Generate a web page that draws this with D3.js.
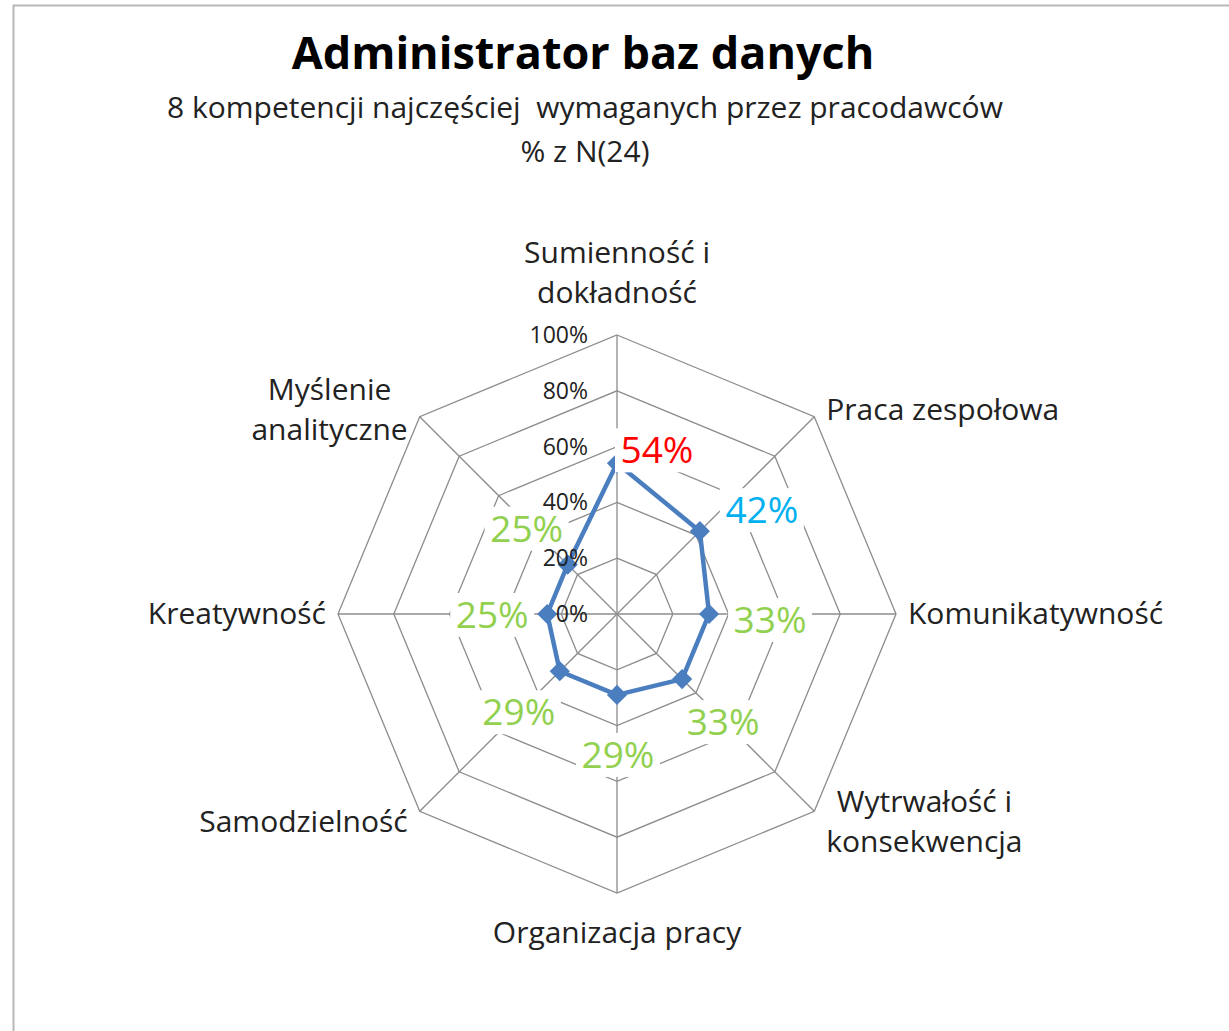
<!DOCTYPE html>
<head>
	<meta charset="utf-8">
	<script src="https://d3js.org/d3.v7.min.js"></script>
	<style>
		body { margin: 0; background: #fff; }
		text { font-family: "Open Sans", Lato, sans-serif; white-space: pre; }
	</style>
</head>
<body>
	<svg id="chart" width="1229" height="1031"></svg>
	<script>

	// Data
	var categories = [
		["Sumienność i", "dokładność"],
		["Praca zespołowa"],
		["Komunikatywność"],
		["Wytrwałość i", "konsekwencja"],
		["Organizacja pracy"],
		["Samodzielność"],
		["Kreatywność"],
		["Myślenie", "analityczne"]
	];
	var values = [0.54, 0.42, 0.33, 0.33, 0.29, 0.29, 0.25, 0.25];
	var valueLabels = ["54%", "42%", "33%", "33%", "29%", "29%", "25%", "25%"];
	var labelColors = ["#ff0000", "#00b0f0", "#92d050", "#92d050", "#92d050", "#92d050", "#92d050", "#92d050"];
	var tickValues = [0, 0.2, 0.4, 0.6, 0.8, 1];
	var tickLabels = ["0%", "20%", "40%", "60%", "80%", "100%"];

	var title = "Administrator baz danych";
	var subtitle = ["8 kompetencji najczęściej  wymaganych przez pracodawców", "% z N(24)"];

	// layout
	var svg = d3.select("#chart");
	var cx = 617, cy = 614, R = 279;
	var n = categories.length;
	var r = d3.scaleLinear().domain([0, 1]).range([0, R]);
	var angle = function(i) { return i * 2 * Math.PI / n; };
	var px = function(i, v) { return cx + r(v) * Math.sin(angle(i)); };
	var py = function(i, v) { return cy - r(v) * Math.cos(angle(i)); };

	// nudges for the data labels (label sits this far from its point)
	var labelNudge = [[40, -13], [62, -21], [61, 6], [41, 43], [1, 60], [-41, 41], [-55, 1], [-41, -36]];

	// frame
	svg.append("rect")
		.attr("x", 13.5).attr("y", 5.5)
		.attr("width", 1240).attr("height", 1040)
		.attr("fill", "#fff")
		.attr("stroke", "#b8b8b8")
		.attr("stroke-width", 2);

	// titles
	svg.append("text")
		.attr("x", 583).attr("y", 69)
		.attr("text-anchor", "middle")
		.attr("font-size", 45).attr("font-weight", "bold")
		.attr("fill", "#000")
		.text(title);
	svg.selectAll(".sub").data(subtitle).enter().append("text")
		.attr("class", "sub")
		.attr("x", 585)
		.attr("y", function(d, i) { return 118 + i * 44; })
		.attr("text-anchor", "middle")
		.attr("font-size", 30)
		.attr("fill", "#222")
		.text(function(d) { return d; });

	// grid rings
	var grid = svg.append("g");
	tickValues.forEach(function(t) {
		var pts = d3.range(n).map(function(i) { return [px(i, t), py(i, t)]; });
		grid.append("path")
			.attr("d", "M" + pts.join("L") + "Z")
			.attr("fill", "none")
			.attr("stroke", "#8c8c8c")
			.attr("stroke-width", 1.3);
	});
	// spokes
	grid.selectAll(".spoke").data(d3.range(n)).enter().append("line")
		.attr("x1", cx).attr("y1", cy)
		.attr("x2", function(i) { return px(i, 1); })
		.attr("y2", function(i) { return py(i, 1); })
		.attr("stroke", "#8c8c8c")
		.attr("stroke-width", 1.3);

	// series
	var line = d3.lineRadial()
		.angle(function(d, i) { return angle(i); })
		.radius(function(d) { return r(d); })
		.curve(d3.curveLinearClosed);
	svg.append("path")
		.attr("transform", "translate(" + cx + "," + cy + ")")
		.attr("d", line(values))
		.attr("fill", "none")
		.attr("stroke", "#4a7ebf")
		.attr("stroke-width", 4.5)
		.attr("stroke-linejoin", "round");
	svg.selectAll(".marker").data(values).enter().append("path")
		.attr("transform", function(d, i) { return "translate(" + px(i, d) + "," + py(i, d) + ")"; })
		.attr("d", d3.symbol().type(d3.symbolDiamond2).size(260))
		.attr("fill", "#4a7ebf");

	// data labels with white boxes
	var dl = svg.selectAll(".dl").data(values).enter().append("g")
		.attr("transform", function(d, i) {
			return "translate(" + (px(i, d) + labelNudge[i][0]) + "," + (py(i, d) + labelNudge[i][1]) + ")";
		});
	dl.append("rect")
		.attr("x", -42).attr("y", -22)
		.attr("width", 84).attr("height", 44)
		.attr("fill", "#fff");
	dl.append("text")
		.attr("text-anchor", "middle")
		.attr("y", 13)
		.attr("font-size", 37)
		.attr("fill", function(d, i) { return labelColors[i]; })
		.text(function(d, i) { return valueLabels[i]; });

	// tick labels on top
	svg.selectAll(".tick").data(tickValues).enter().append("text")
		.attr("x", cx - 29)
		.attr("y", function(t) { return cy - r(t) + 8; })
		.attr("text-anchor", "end")
		.attr("font-size", 23)
		.attr("fill", "#222")
		.text(function(t, i) { return tickLabels[i]; });

	// category labels
	var lineH = 40;
	categories.forEach(function(lines, i) {
		var s = Math.sin(angle(i)), c = Math.cos(angle(i));
		var vx = px(i, 1), vy = py(i, 1);
		var g = svg.append("g");
		var texts = g.selectAll("text").data(lines).enter().append("text")
			.attr("text-anchor", "middle")
			.attr("font-size", 30)
			.attr("fill", "#222")
			.text(function(d) { return d; });
		var w = d3.max(texts.nodes(), function(t) { return t.getComputedTextLength(); });
		var h = lines.length * lineH;
		var x = vx, top;
		if (s > 0.1) x = vx + 12 + w / 2;
		else if (s < -0.1) x = vx - 12 - w / 2;
		if (c > 0.9) top = vy - 22 - h;
		else if (c < -0.9) top = vy + 20;
		else if (c > 0.1) top = vy - 7 - h / 2;
		else if (c < -0.1) top = vy + 11 - h / 2;
		else top = vy - h / 2;
		texts.attr("x", x)
			.attr("y", function(d, k) { return top + k * lineH + 30; });
	});

	</script>
</body>
</html>
